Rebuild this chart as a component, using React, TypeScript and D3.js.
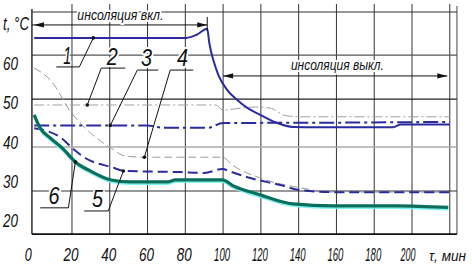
import React from "react";
import * as d3 from "d3";

const W = 472, H = 266;

// x tick labels (minutes) and y tick labels (°C)
const xTicks = [0, 20, 40, 60, 80, 100, 120, 140, 160, 180, 200];
const yTicks = [20, 30, 40, 50, 60];
const xGrid = [20, 40, 60, 80, 100, 120, 140, 160, 180, 200, 220];
const yGrid = [73, 62, 50.8, 38.6, 27.4];
const yGridTone = ["#333", "#555", "#222", "#aaa", "#333"];

type P = [number, number];
// 1 – solid blue
const s1: P[] = [[0, 66.4], [80.5, 66.4], [86, 67.2], [91.6, 68.7], [92.7, 65.1], [94.8, 60.8], [97.5, 56.9], [102.2, 53.1], [107.5, 50.6], [113, 48.5], [119.7, 46.8], [128.7, 44.7], [137, 43.7], [150, 43.6], [190, 43.6], [194, 44.3], [220, 44.3]];
// 2 – gray dash-dot
const s2: P[] = [[0, 49.3], [96, 49.3], [100, 48.0], [109, 48.5], [117, 48.8], [125, 48.5], [133, 46.6], [141, 46.3], [220, 46.3]];
// 3 – blue dash-dot
const s3: P[] = [[0, 44.1], [60, 44.1], [68, 43.5], [92, 43.5], [100, 44.7], [160, 44.8], [220, 45.0]];
// 4 – gray dashed
const s4: P[] = [[0, 58.7], [8.5, 55.7], [20.2, 47.0], [29.7, 42.2], [40.8, 38.3], [48.2, 36.3], [57.8, 36.0], [99.6, 36.0], [104.9, 34.0], [119.7, 30.7], [140.9, 28.2], [158.3, 27.1], [220, 27.1]];
// 5 – blue dashed
const s5: P[] = [[0, 43.4], [14.3, 40.9], [20.2, 38.3], [27, 35.8], [40.8, 33.5], [48.2, 32.5], [77.3, 32.2], [90, 32.0], [99.6, 33.0], [104, 32.3], [114.4, 30.7], [130.3, 28.9], [140.9, 27.6], [158.9, 27.1], [220, 27.1]];
// 6 – teal thick
const s6: P[] = [[0, 46.8], [3.2, 43.4], [8.5, 40.9], [14.9, 38.3], [21.8, 34.8], [29.7, 32.5], [40.8, 30.2], [50.9, 29.7], [70.5, 29.7], [74.7, 30.2], [99.6, 30.2], [105.4, 28.7], [119.7, 26.4], [137, 24.1], [158.3, 23.6], [192, 23.6], [219.2, 23.2]];

// callouts: label, text position (t, v), underline span (t0, t1, v), leader from (t, v) to dot (t, v)
const callouts = [
  { id: "1", tx: 17.5, tv: 59.8, u0: 11.7, u1: 23.9, uv: 59.0, lx: 23.9, dx: 31.3, dv: 66.4 },
  { id: "2", tx: 41.3, tv: 59.5, u0: 35.5, u1: 48.2, uv: 58.7, lx: 35.5, dx: 28.1, dv: 49.3 },
  { id: "3", tx: 59.5, tv: 59.3, u0: 54.6, u1: 65.7, uv: 58.2, lx: 54.6, dx: 40.3, dv: 44.1 },
  { id: "4", tx: 78.5, tv: 59.3, u0: 72.0, u1: 84.2, uv: 58.2, lx: 72.0, dx: 58.3, dv: 36.0 },
  { id: "6", tx: 10.5, tv: 24.0, u0: 3.2, u1: 18.1, uv: 23.1, lx: 18.1, dx: 21.8, dv: 34.8 },
  { id: "5", tx: 33.5, tv: 23.3, u0: 26.5, u1: 39.2, uv: 22.3, lx: 39.2, dx: 47.2, dv: 32.5 },
];

const FONT = "'Liberation Sans', Arial, sans-serif";

type TP = { x: number; y: number; w: number; size: number; anchor?: "start" | "middle" | "end"; bg?: boolean; children: React.ReactNode };
function Txt({ x, y, w, size, anchor = "start", bg = false, children }: TP) {
  const style = bg ? { paintOrder: "stroke" as const, stroke: "#fff", strokeWidth: 4, strokeLinejoin: "round" as const } : undefined;
  return (
    <text x={x} y={y} textAnchor={anchor} fontSize={size} fontStyle="italic" fill="#111"
      textLength={w} lengthAdjust="spacingAndGlyphs" style={style}>{children}</text>
  );
}

export default function App() {
  const x = d3.scaleLinear().domain([0, 200]).range([34.2, 412]);
  const y = d3.scaleLinear().domain([20, 60]).range([220, 63]);
  const tMin = -1.2, tMax = 223.8, vMin = 16.4;
  const line = d3.line<P>().x((d) => x(d[0])).y((d) => y(d[1])).curve(d3.curveMonotoneX);

  const blue = "#2b2b9e";
  const arrowHead = (tipX: number, tipY: number, dir: number) => {
    const L = 10, hw = 2.6;
    return `M${tipX},${tipY} L${tipX - dir * L},${tipY - hw} L${tipX - dir * L},${tipY + hw} Z`;
  };
  const a1y = y(69.7), a1x0 = x(tMin), a1x1 = x(91.6);
  const a2y = y(56.7), a2x0 = x(100), a2x1 = x(218.7);

  return (
    <svg width={W} height={H} style={{ position: "absolute", left: 0, top: 0, background: "#fff" }} fontFamily={FONT}>
      <rect width={W} height={H} fill="#fff" />
      {/* vertical grid */}
      {xGrid.map((t) => (
        <line key={"vx" + t} x1={x(t)} x2={x(t)} y1={4} y2={y(vMin)} stroke="#333" strokeWidth={1} />
      ))}
      <line x1={x(tMax)} x2={x(tMax)} y1={6} y2={y(vMin)} stroke="#444" strokeWidth={1} />
      {/* horizontal grid */}
      {yGrid.map((v, i) => (
        <line key={"hy" + v} x1={x(tMin)} x2={x(tMax)} y1={y(v)} y2={y(v)} stroke={yGridTone[i]} strokeWidth={i === 3 ? 1.6 : 1.1} />
      ))}
      {/* axes */}
      <line x1={x(tMin)} x2={x(tMin)} y1={9} y2={y(vMin)} stroke="#111" strokeWidth={1.3} />
      <line x1={x(tMin)} x2={x(tMax)} y1={y(vMin)} y2={y(vMin)} stroke="#111" strokeWidth={1.6} />

      {/* series */}
      <path d={line(s4) || ""} fill="none" stroke="#9a9a9a" strokeWidth={1} strokeDasharray="8 4" />
      <path d={line(s2) || ""} fill="none" stroke="#a0a0a0" strokeWidth={1} strokeDasharray="10 3 2 3" />
      <path d={line(s3) || ""} fill="none" stroke={blue} strokeWidth={2} strokeDasharray="15 4 3 4" />
      <path d={line(s5) || ""} fill="none" stroke={blue} strokeWidth={2} strokeDasharray="10 5" />
      <path d={line(s1) || ""} fill="none" stroke={blue} strokeWidth={2} />
      <path d={line(s6) || ""} fill="none" stroke="#7af4f2" strokeWidth={1.8} transform="translate(0,2.2)" />
      <path d={line(s6) || ""} fill="none" stroke="#0b6e5a" strokeWidth={3.2} />

      {/* insolation arrows */}
      <line x1={a1x0} x2={a1x1} y1={a1y} y2={a1y} stroke="#111" strokeWidth={1} />
      <path d={arrowHead(a1x0 + 2, a1y, -1)} fill="#111" />
      <path d={arrowHead(a1x1, a1y, 1)} fill="#111" />
      <line x1={a1x1} x2={a1x1} y1={a1y - 8} y2={a1y + 6} stroke="#111" strokeWidth={1} />
      <Txt x={x(45.6)} y={y(70.9)} w={86} size={15} anchor="middle" bg>инсоляция вкл.</Txt>

      <line x1={a2x0} x2={a2x1} y1={a2y} y2={a2y} stroke="#111" strokeWidth={1} />
      <path d={arrowHead(a2x0, a2y, -1)} fill="#111" />
      <path d={arrowHead(a2x1, a2y, 1)} fill="#111" />
      <Txt x={x(160.5)} y={y(58.3)} w={93} size={15} anchor="middle" bg>инсоляция выкл.</Txt>

      {/* callouts */}
      {callouts.map((c) => (
        <g key={"c" + c.id}>
          <Txt x={x(c.tx)} y={y(c.tv)} w={c.id === "1" ? 8 : 11} size={23} anchor="middle" bg>{c.id}</Txt>
          <line x1={x(c.u0)} x2={x(c.u1)} y1={y(c.uv)} y2={y(c.uv)} stroke="#111" strokeWidth={1} />
          <line x1={x(c.lx)} x2={x(c.dx)} y1={y(c.uv)} y2={y(c.dv)} stroke="#111" strokeWidth={1} />
          <circle cx={x(c.dx)} cy={y(c.dv)} r={1.8} fill="#111" />
        </g>
      ))}

      {/* tick labels */}
      {yTicks.map((v) => (
        <Txt key={"yt" + v} x={18} y={y(v) + 7} w={15} size={19} anchor="end">{v}</Txt>
      ))}
      {xTicks.map((t) => (
        <Txt key={"xt" + t} x={x(t) - (t === 0 ? 6 : t === 200 ? 4 : 1)} y={261} w={t === 0 ? 7 : t === 200 ? 15 : t >= 100 ? 16 : 15} size={19} anchor="middle">{t}</Txt>
      ))}
      <Txt x={3} y={30} w={26} size={19}>t, °C</Txt>
      <Txt x={429} y={261} w={37} size={14}>τ, мин</Txt>
    </svg>
  );
}
